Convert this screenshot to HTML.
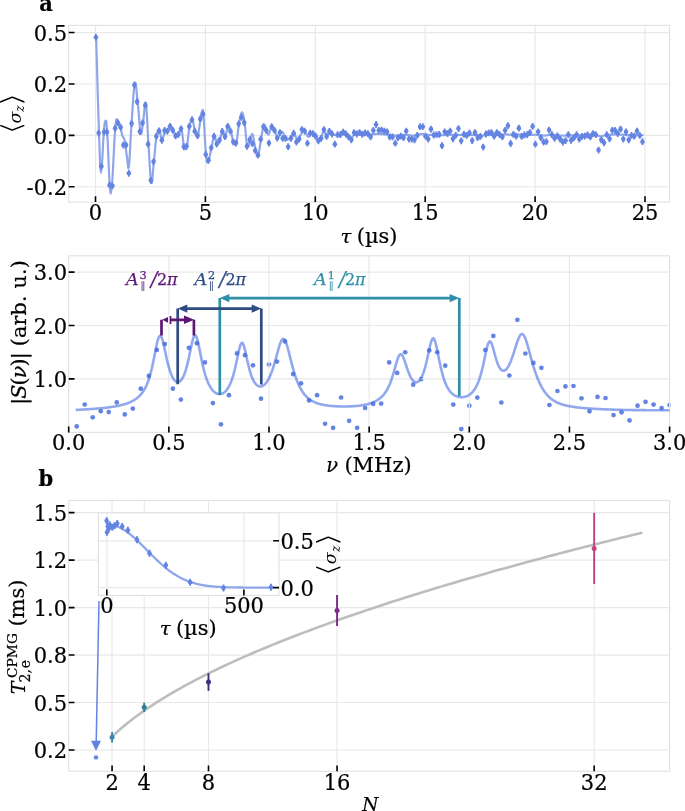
<!DOCTYPE html>
<html><head><meta charset="utf-8"><title>Figure</title>
<style>
html,body{margin:0;padding:0;background:#fff;}
svg{display:block;font-family:"DejaVu Serif", "Liberation Serif", serif;}
.k{stroke:#000;stroke-width:0.22px;}
</style></head><body>
<svg width="685" height="811" viewBox="0 0 685 811">
<rect width="685" height="811" fill="#fff"/>
<g id="panel-a">
<line x1="95.50" y1="25.4" x2="95.50" y2="202.1" stroke="#e8e8e8" stroke-width="1.15"/>
<line x1="205.40" y1="25.4" x2="205.40" y2="202.1" stroke="#e8e8e8" stroke-width="1.15"/>
<line x1="315.30" y1="25.4" x2="315.30" y2="202.1" stroke="#e8e8e8" stroke-width="1.15"/>
<line x1="425.20" y1="25.4" x2="425.20" y2="202.1" stroke="#e8e8e8" stroke-width="1.15"/>
<line x1="535.10" y1="25.4" x2="535.10" y2="202.1" stroke="#e8e8e8" stroke-width="1.15"/>
<line x1="645.00" y1="25.4" x2="645.00" y2="202.1" stroke="#e8e8e8" stroke-width="1.15"/>
<line x1="68.7" y1="32.55" x2="669.6" y2="32.55" stroke="#e8e8e8" stroke-width="1.15"/>
<line x1="68.7" y1="83.95" x2="669.6" y2="83.95" stroke="#e8e8e8" stroke-width="1.15"/>
<line x1="68.7" y1="135.35" x2="669.6" y2="135.35" stroke="#e8e8e8" stroke-width="1.15"/>
<line x1="68.7" y1="186.75" x2="669.6" y2="186.75" stroke="#e8e8e8" stroke-width="1.15"/>
<rect x="68.7" y="25.4" width="600.90" height="176.70" fill="none" stroke="#e3e3e3" stroke-width="1.2"/>
<path transform="translate(0.3,0.3)" d="M95.86,36.93C96.42,56.02 97.68,105.26 98.68,132.38C99.67,159.49 99.89,172.51 100.85,172.51C101.80,172.51 102.58,142.79 103.45,132.38C104.32,121.96 104.49,120.44 105.18,120.44C105.88,120.44 105.84,117.84 106.92,132.38C108.00,146.91 109.00,193.98 110.61,193.11C112.21,192.25 113.56,142.57 114.95,128.04C116.33,113.50 116.46,120.44 117.55,120.44C118.63,120.44 119.46,125.00 120.37,128.04C121.28,131.07 121.32,133.24 122.10,135.63C122.89,138.02 123.41,136.06 124.27,139.97C125.14,143.87 125.57,149.95 126.44,155.15C127.31,160.36 127.66,172.29 128.61,166.00C129.57,159.71 130.04,140.18 131.21,123.70C132.39,107.21 133.25,88.12 134.47,83.57C135.68,79.01 136.12,91.16 137.29,100.92C138.46,110.68 139.24,128.04 140.33,132.38C141.41,136.71 141.67,128.47 142.71,122.61C143.75,116.76 144.45,98.97 145.53,103.09C146.62,107.21 147.05,127.39 148.13,143.22C149.22,159.06 149.87,178.58 150.95,182.27C152.04,185.95 152.52,170.77 153.56,161.66C154.60,152.55 155.08,143.22 156.16,136.71C157.25,130.21 157.85,128.47 158.98,129.12C160.11,129.77 160.63,139.75 161.80,139.97C162.97,140.18 163.71,131.94 164.84,130.21C165.97,128.47 166.37,132.12 167.44,131.29C168.51,130.46 169.10,126.29 170.18,126.04C171.26,125.78 171.75,128.11 172.84,130.03C173.93,131.95 174.56,134.82 175.65,135.65C176.75,136.48 177.22,135.59 178.31,134.17C179.41,132.75 180.03,126.09 181.12,128.55C182.22,131.01 182.69,142.96 183.79,146.45C184.88,149.94 185.50,150.09 186.60,146.01C187.69,141.92 188.17,131.36 189.26,126.04C190.36,120.71 190.98,118.40 192.07,119.38C193.17,120.36 193.64,127.72 194.73,130.92C195.83,134.11 196.45,137.81 197.54,135.36C198.64,132.90 199.38,123.46 200.21,118.64C201.04,113.82 201.09,111.98 201.69,111.24C202.28,110.50 202.37,106.36 203.17,114.94C203.96,123.52 204.73,144.82 205.68,154.14C206.63,163.46 206.80,162.87 207.90,161.54C208.99,160.21 209.94,152.60 211.15,147.49C212.37,142.37 212.84,136.69 213.96,135.95C215.09,135.21 215.68,143.02 216.78,143.79C217.87,144.56 218.34,142.31 219.44,139.79C220.53,137.28 221.15,131.89 222.25,131.21C223.34,130.53 223.82,137.43 224.91,136.39C226.01,135.36 226.60,127.13 227.72,126.04C228.85,124.94 229.44,127.81 230.53,130.92C231.63,134.02 232.10,139.20 233.20,141.57C234.29,143.93 234.91,146.36 236.01,142.75C237.10,139.14 237.57,129.67 238.67,123.52C239.76,117.37 240.36,112.22 241.48,111.98C242.60,111.75 243.20,115.53 244.29,122.34C245.38,129.14 245.86,142.60 246.95,146.01C248.05,149.41 248.70,141.72 249.76,139.35C250.83,136.98 251.18,132.25 252.28,134.17C253.37,136.09 254.11,144.82 255.24,148.96C256.36,153.11 256.80,156.89 257.90,154.88C258.99,152.87 259.56,144.90 260.71,138.91C261.86,132.91 262.57,126.70 263.65,124.93C264.73,123.15 265.26,128.14 266.13,130.04C267.01,131.93 267.27,134.42 268.03,134.42C268.79,134.42 269.14,131.79 269.93,130.04C270.72,128.28 271.04,125.51 271.97,125.66C272.91,125.80 273.49,128.43 274.60,130.77C275.71,133.10 276.47,136.84 277.52,137.34C278.57,137.83 278.98,134.42 279.85,133.25C280.73,132.08 280.96,130.97 281.90,131.50C282.83,132.02 283.50,134.27 284.53,135.88C285.55,137.48 285.78,139.38 287.01,139.53C288.23,139.67 289.34,137.92 290.66,136.61C291.97,135.29 292.26,132.37 293.58,132.96C294.89,133.54 295.91,139.09 297.23,139.53C298.54,139.96 298.98,137.04 300.15,135.15C301.31,133.25 301.99,130.47 303.07,130.04C304.15,129.60 304.53,131.64 305.55,132.96C306.57,134.27 307.07,136.75 308.18,136.61C309.28,136.46 309.78,132.37 311.09,132.23C312.41,132.08 313.28,134.27 314.74,135.88C316.20,137.48 317.08,140.26 318.39,140.26C319.71,140.26 320.23,137.92 321.31,135.88C322.39,133.83 322.77,129.98 323.80,130.04C324.82,130.09 325.34,135.88 326.42,136.17C327.50,136.46 328.03,131.91 329.20,131.50C330.36,131.09 330.63,133.48 332.26,134.12C333.90,134.77 335.18,134.88 337.37,134.71C339.56,134.53 341.17,133.01 343.21,133.25C345.26,133.48 345.99,135.06 347.59,135.88C349.20,136.69 349.78,137.77 351.24,137.34C352.70,136.90 353.14,134.33 354.89,133.69C356.64,133.04 357.96,133.98 360.00,134.12C362.04,134.27 363.51,134.32 365.08,134.40C366.64,134.48 366.72,134.52 367.82,134.52C368.92,134.52 369.47,134.51 370.57,134.39C371.67,134.27 372.22,134.09 373.32,133.94C374.42,133.78 374.96,133.68 376.06,133.61C377.16,133.54 377.71,133.53 378.81,133.59C379.91,133.66 380.46,133.84 381.56,133.92C382.66,134.00 383.20,133.91 384.30,134.00C385.40,134.08 385.95,134.21 387.05,134.34C388.15,134.47 388.70,134.46 389.80,134.63C390.90,134.80 391.44,135.08 392.54,135.20C393.64,135.32 394.19,135.24 395.29,135.24C396.39,135.24 396.94,135.26 398.04,135.20C399.14,135.14 399.69,135.04 400.78,134.92C401.88,134.80 402.43,134.63 403.53,134.59C404.63,134.56 405.18,134.70 406.28,134.74C407.38,134.78 407.93,134.71 409.02,134.81C410.12,134.92 410.67,135.20 411.77,135.25C412.87,135.30 413.42,135.23 414.52,135.07C415.62,134.91 416.17,134.70 417.26,134.45C418.36,134.19 418.91,133.92 420.01,133.79C421.11,133.67 421.66,133.70 422.76,133.83C423.86,133.96 424.41,134.30 425.50,134.45C426.60,134.60 427.15,134.56 428.25,134.57C429.35,134.59 429.90,134.57 431.00,134.51C432.10,134.46 432.65,134.29 433.74,134.29C434.84,134.30 435.39,134.40 436.49,134.56C437.59,134.72 438.14,135.01 439.24,135.09C440.34,135.17 440.89,134.98 441.98,134.94C443.08,134.91 443.63,135.06 444.73,134.90C445.83,134.75 446.38,134.25 447.48,134.17C448.58,134.09 449.13,134.43 450.22,134.52C451.32,134.61 451.87,134.62 452.97,134.62C454.07,134.61 454.62,134.50 455.72,134.49C456.82,134.49 457.37,134.58 458.46,134.59C459.56,134.60 460.11,134.48 461.21,134.54C462.31,134.60 462.86,134.90 463.96,134.89C465.06,134.88 465.61,134.51 466.70,134.49C467.80,134.47 468.35,134.77 469.45,134.80C470.55,134.83 471.10,134.63 472.20,134.65C473.30,134.67 473.85,134.88 474.94,134.89C476.04,134.89 476.59,134.58 477.69,134.68C478.79,134.79 479.34,135.30 480.44,135.41C481.54,135.52 482.09,135.30 483.18,135.23C484.28,135.16 484.83,135.23 485.93,135.05C487.03,134.87 487.58,134.45 488.68,134.32C489.78,134.20 490.33,134.42 491.42,134.43C492.52,134.45 493.07,134.39 494.17,134.41C495.27,134.43 495.82,134.49 496.92,134.52C498.02,134.55 498.57,134.57 499.66,134.56C500.76,134.54 501.31,134.56 502.41,134.45C503.51,134.34 504.06,134.02 505.16,134.00C506.26,133.97 506.81,134.22 507.90,134.32C509.00,134.43 509.55,134.38 510.65,134.53C511.75,134.67 512.30,135.10 513.40,135.05C514.50,135.01 515.05,134.42 516.15,134.29C517.24,134.15 517.79,134.38 518.89,134.39C519.99,134.40 520.54,134.28 521.64,134.33C522.74,134.39 523.29,134.63 524.39,134.66C525.48,134.69 526.03,134.59 527.13,134.46C528.23,134.34 528.78,134.02 529.88,134.03C530.98,134.04 531.53,134.42 532.63,134.51C533.72,134.59 534.27,134.36 535.37,134.47C536.47,134.57 537.02,134.94 538.12,135.03C539.22,135.12 539.77,134.84 540.87,134.92C541.96,135.00 542.51,135.40 543.61,135.42C544.71,135.44 545.26,135.19 546.36,135.04C547.46,134.89 548.01,134.78 549.11,134.67C550.20,134.57 550.75,134.48 551.85,134.51C552.95,134.53 553.50,134.70 554.60,134.80C555.70,134.90 556.25,134.94 557.35,135.02C558.44,135.10 558.99,135.12 560.09,135.20C561.19,135.28 561.74,135.43 562.84,135.43C563.94,135.44 564.49,135.28 565.59,135.21C566.68,135.15 567.23,135.17 568.33,135.13C569.43,135.08 569.98,135.02 571.08,135.00C572.18,134.97 572.73,135.01 573.83,135.00C574.92,134.98 575.47,134.96 576.57,134.94C577.67,134.91 578.22,134.86 579.32,134.86C580.42,134.86 580.97,134.96 582.07,134.94C583.16,134.91 583.71,134.77 584.81,134.73C585.91,134.70 586.46,134.78 587.56,134.75C588.66,134.73 589.21,134.65 590.31,134.62C591.40,134.59 591.95,134.48 593.05,134.61C594.15,134.74 594.70,135.07 595.80,135.27C596.90,135.46 597.45,135.44 598.55,135.58C599.64,135.72 600.19,136.05 601.29,135.98C602.39,135.91 602.94,135.38 604.04,135.21C605.14,135.05 605.69,135.30 606.79,135.16C607.88,135.03 608.43,134.71 609.53,134.54C610.63,134.37 611.18,134.42 612.28,134.32C613.38,134.23 613.93,134.13 615.03,134.06C616.12,134.00 616.67,133.93 617.77,134.00C618.87,134.08 619.42,134.37 620.52,134.44C621.62,134.51 622.17,134.26 623.27,134.35C624.37,134.44 624.91,134.82 626.01,134.89C627.11,134.96 627.66,134.70 628.76,134.70C629.86,134.71 630.41,134.97 631.51,134.92C632.61,134.88 633.15,134.57 634.25,134.48C635.35,134.40 635.90,134.43 637.00,134.48C638.10,134.54 638.65,134.67 639.75,134.76C640.85,134.86 641.94,134.92 642.49,134.96" fill="none" stroke="#8fa6ea" stroke-width="2.2" stroke-linejoin="round" stroke-linecap="round"/>
<path d="M95.90,33.83v6.8M98.65,129.71v6.8M101.39,162.90v6.8M104.14,128.62v6.8M106.89,128.62v6.8M109.63,181.77v6.8M112.38,182.42v6.8M115.13,124.94v6.8M117.87,119.51v6.8M120.62,123.85v6.8M123.37,141.64v6.8M126.11,141.64v6.8M128.86,169.84v6.8M131.61,120.16v6.8M134.35,81.55v6.8M137.10,98.26v6.8M139.85,128.19v6.8M142.59,119.51v6.8M145.34,101.73v6.8M148.09,140.77v6.8M150.83,177.00v6.8M153.58,158.13v6.8M156.33,132.96v6.8M159.07,127.54v6.8M161.82,136.87v6.8M164.57,127.11v6.8M167.31,127.82v6.8M170.06,122.94v6.8M172.81,126.93v6.8M175.55,132.55v6.8M178.30,131.07v6.8M181.05,125.45v6.8M183.79,143.35v6.8M186.54,142.91v6.8M189.29,122.94v6.8M192.03,116.28v6.8M194.78,127.82v6.8M197.53,132.26v6.8M200.27,115.54v6.8M203.02,110.66v6.8M205.77,151.04v6.8M208.51,156.96v6.8M211.26,144.39v6.8M214.01,132.85v6.8M216.75,140.69v6.8M219.50,136.69v6.8M222.25,128.11v6.8M224.99,133.29v6.8M227.74,122.94v6.8M230.49,127.82v6.8M233.24,138.47v6.8M235.98,139.65v6.8M238.73,120.42v6.8M241.48,114.06v6.8M244.22,119.24v6.8M246.97,142.91v6.8M249.72,136.25v6.8M252.46,140.24v6.8M255.21,147.05v6.8M257.96,151.78v6.8M260.70,135.81v6.8M263.45,123.29v6.8M266.20,126.94v6.8M268.94,139.64v6.8M271.69,123.29v6.8M274.44,126.94v6.8M277.18,134.67v6.8M279.93,129.13v6.8M282.68,134.97v6.8M285.42,134.97v6.8M288.17,143.29v6.8M290.92,134.97v6.8M293.66,129.86v6.8M296.41,138.62v6.8M299.16,135.70v6.8M301.90,126.21v6.8M304.65,127.67v6.8M307.40,139.78v6.8M310.14,129.86v6.8M312.89,130.15v6.8M315.64,132.78v6.8M318.38,137.45v6.8M321.13,134.97v6.8M323.88,126.21v6.8M326.62,133.07v6.8M329.37,127.96v6.8M332.12,130.59v6.8M334.86,140.81v6.8M337.61,131.32v6.8M340.36,131.32v6.8M343.10,128.69v6.8M345.85,130.59v6.8M348.60,133.51v6.8M351.34,136.43v6.8M354.09,129.13v6.8M356.84,130.59v6.8M359.58,129.13v6.8M362.33,131.02v6.8M365.08,129.56v6.8M367.82,130.15v6.8M370.57,133.51v6.8M373.32,126.94v6.8M376.06,121.10v6.8M378.81,126.94v6.8M381.56,126.64v6.8M384.30,127.67v6.8M387.05,128.40v6.8M389.80,133.51v6.8M392.54,133.51v6.8M395.29,139.78v6.8M398.04,134.24v6.8M400.78,132.78v6.8M403.53,134.24v6.8M406.28,127.67v6.8M409.02,135.70v6.8M411.77,135.70v6.8M414.52,136.43v6.8M417.26,132.05v6.8M420.01,123.29v6.8M422.76,123.29v6.8M425.50,132.78v6.8M428.25,135.70v6.8M431.00,125.77v6.8M433.74,131.61v6.8M436.49,131.32v6.8M439.24,131.02v6.8M441.98,142.26v6.8M444.73,128.40v6.8M447.48,130.15v6.8M450.22,127.67v6.8M452.97,135.40v6.8M455.72,132.05v6.8M458.46,125.18v6.8M461.21,137.45v6.8M463.96,131.02v6.8M466.70,132.05v6.8M469.45,129.56v6.8M472.20,137.16v6.8M474.94,129.13v6.8M477.69,134.24v6.8M480.44,133.07v6.8M483.18,143.72v6.8M485.93,130.59v6.8M488.68,129.56v6.8M491.42,129.13v6.8M494.17,132.78v6.8M496.92,129.13v6.8M499.66,131.32v6.8M502.41,133.51v6.8M505.16,126.94v6.8M507.90,122.26v6.8M510.65,140.08v6.8M513.40,131.02v6.8M516.15,132.78v6.8M518.89,124.75v6.8M521.64,133.07v6.8M524.39,131.61v6.8M527.13,131.32v6.8M529.88,129.13v6.8M532.63,122.99v6.8M535.37,140.81v6.8M538.12,128.40v6.8M540.87,134.24v6.8M543.61,138.62v6.8M546.36,138.32v6.8M549.11,126.64v6.8M551.85,131.32v6.8M554.60,134.97v6.8M557.35,132.48v6.8M560.09,135.70v6.8M562.84,138.62v6.8M565.59,137.16v6.8M568.33,131.32v6.8M571.08,136.86v6.8M573.83,134.53v6.8M576.57,131.32v6.8M579.32,135.70v6.8M582.07,133.07v6.8M584.81,132.78v6.8M587.56,131.61v6.8M590.31,133.51v6.8M593.05,130.15v6.8M595.80,131.32v6.8M598.55,146.64v6.8M601.29,136.43v6.8M604.04,139.35v6.8M606.79,131.32v6.8M609.53,135.40v6.8M612.28,126.94v6.8M615.03,126.94v6.8M617.77,130.15v6.8M620.52,125.77v6.8M623.27,135.70v6.8M626.01,128.40v6.8M628.76,136.43v6.8M631.51,132.05v6.8M634.25,132.78v6.8M637.00,127.67v6.8M639.75,132.05v6.8M642.49,138.32v6.8" stroke="#6484e2" stroke-width="1.8" fill="none"/>
<g fill="#6484e2"><circle cx="95.90" cy="37.23" r="2.3"/><circle cx="98.65" cy="133.11" r="2.3"/><circle cx="101.39" cy="166.30" r="2.3"/><circle cx="104.14" cy="132.02" r="2.3"/><circle cx="106.89" cy="132.02" r="2.3"/><circle cx="109.63" cy="185.17" r="2.3"/><circle cx="112.38" cy="185.82" r="2.3"/><circle cx="115.13" cy="128.34" r="2.3"/><circle cx="117.87" cy="122.91" r="2.3"/><circle cx="120.62" cy="127.25" r="2.3"/><circle cx="123.37" cy="145.04" r="2.3"/><circle cx="126.11" cy="145.04" r="2.3"/><circle cx="128.86" cy="173.24" r="2.3"/><circle cx="131.61" cy="123.56" r="2.3"/><circle cx="134.35" cy="84.95" r="2.3"/><circle cx="137.10" cy="101.66" r="2.3"/><circle cx="139.85" cy="131.59" r="2.3"/><circle cx="142.59" cy="122.91" r="2.3"/><circle cx="145.34" cy="105.13" r="2.3"/><circle cx="148.09" cy="144.17" r="2.3"/><circle cx="150.83" cy="180.40" r="2.3"/><circle cx="153.58" cy="161.53" r="2.3"/><circle cx="156.33" cy="136.36" r="2.3"/><circle cx="159.07" cy="130.94" r="2.3"/><circle cx="161.82" cy="140.27" r="2.3"/><circle cx="164.57" cy="130.51" r="2.3"/><circle cx="167.31" cy="131.22" r="2.3"/><circle cx="170.06" cy="126.34" r="2.3"/><circle cx="172.81" cy="130.33" r="2.3"/><circle cx="175.55" cy="135.95" r="2.3"/><circle cx="178.30" cy="134.47" r="2.3"/><circle cx="181.05" cy="128.85" r="2.3"/><circle cx="183.79" cy="146.75" r="2.3"/><circle cx="186.54" cy="146.31" r="2.3"/><circle cx="189.29" cy="126.34" r="2.3"/><circle cx="192.03" cy="119.68" r="2.3"/><circle cx="194.78" cy="131.22" r="2.3"/><circle cx="197.53" cy="135.66" r="2.3"/><circle cx="200.27" cy="118.94" r="2.3"/><circle cx="203.02" cy="114.06" r="2.3"/><circle cx="205.77" cy="154.44" r="2.3"/><circle cx="208.51" cy="160.36" r="2.3"/><circle cx="211.26" cy="147.79" r="2.3"/><circle cx="214.01" cy="136.25" r="2.3"/><circle cx="216.75" cy="144.09" r="2.3"/><circle cx="219.50" cy="140.09" r="2.3"/><circle cx="222.25" cy="131.51" r="2.3"/><circle cx="224.99" cy="136.69" r="2.3"/><circle cx="227.74" cy="126.34" r="2.3"/><circle cx="230.49" cy="131.22" r="2.3"/><circle cx="233.24" cy="141.87" r="2.3"/><circle cx="235.98" cy="143.05" r="2.3"/><circle cx="238.73" cy="123.82" r="2.3"/><circle cx="241.48" cy="117.46" r="2.3"/><circle cx="244.22" cy="122.64" r="2.3"/><circle cx="246.97" cy="146.31" r="2.3"/><circle cx="249.72" cy="139.65" r="2.3"/><circle cx="252.46" cy="143.64" r="2.3"/><circle cx="255.21" cy="150.45" r="2.3"/><circle cx="257.96" cy="155.18" r="2.3"/><circle cx="260.70" cy="139.21" r="2.3"/><circle cx="263.45" cy="126.69" r="2.3"/><circle cx="266.20" cy="130.34" r="2.3"/><circle cx="268.94" cy="143.04" r="2.3"/><circle cx="271.69" cy="126.69" r="2.3"/><circle cx="274.44" cy="130.34" r="2.3"/><circle cx="277.18" cy="138.07" r="2.3"/><circle cx="279.93" cy="132.53" r="2.3"/><circle cx="282.68" cy="138.37" r="2.3"/><circle cx="285.42" cy="138.37" r="2.3"/><circle cx="288.17" cy="146.69" r="2.3"/><circle cx="290.92" cy="138.37" r="2.3"/><circle cx="293.66" cy="133.26" r="2.3"/><circle cx="296.41" cy="142.02" r="2.3"/><circle cx="299.16" cy="139.10" r="2.3"/><circle cx="301.90" cy="129.61" r="2.3"/><circle cx="304.65" cy="131.07" r="2.3"/><circle cx="307.40" cy="143.18" r="2.3"/><circle cx="310.14" cy="133.26" r="2.3"/><circle cx="312.89" cy="133.55" r="2.3"/><circle cx="315.64" cy="136.18" r="2.3"/><circle cx="318.38" cy="140.85" r="2.3"/><circle cx="321.13" cy="138.37" r="2.3"/><circle cx="323.88" cy="129.61" r="2.3"/><circle cx="326.62" cy="136.47" r="2.3"/><circle cx="329.37" cy="131.36" r="2.3"/><circle cx="332.12" cy="133.99" r="2.3"/><circle cx="334.86" cy="144.21" r="2.3"/><circle cx="337.61" cy="134.72" r="2.3"/><circle cx="340.36" cy="134.72" r="2.3"/><circle cx="343.10" cy="132.09" r="2.3"/><circle cx="345.85" cy="133.99" r="2.3"/><circle cx="348.60" cy="136.91" r="2.3"/><circle cx="351.34" cy="139.83" r="2.3"/><circle cx="354.09" cy="132.53" r="2.3"/><circle cx="356.84" cy="133.99" r="2.3"/><circle cx="359.58" cy="132.53" r="2.3"/><circle cx="362.33" cy="134.42" r="2.3"/><circle cx="365.08" cy="132.96" r="2.3"/><circle cx="367.82" cy="133.55" r="2.3"/><circle cx="370.57" cy="136.91" r="2.3"/><circle cx="373.32" cy="130.34" r="2.3"/><circle cx="376.06" cy="124.50" r="2.3"/><circle cx="378.81" cy="130.34" r="2.3"/><circle cx="381.56" cy="130.04" r="2.3"/><circle cx="384.30" cy="131.07" r="2.3"/><circle cx="387.05" cy="131.80" r="2.3"/><circle cx="389.80" cy="136.91" r="2.3"/><circle cx="392.54" cy="136.91" r="2.3"/><circle cx="395.29" cy="143.18" r="2.3"/><circle cx="398.04" cy="137.64" r="2.3"/><circle cx="400.78" cy="136.18" r="2.3"/><circle cx="403.53" cy="137.64" r="2.3"/><circle cx="406.28" cy="131.07" r="2.3"/><circle cx="409.02" cy="139.10" r="2.3"/><circle cx="411.77" cy="139.10" r="2.3"/><circle cx="414.52" cy="139.83" r="2.3"/><circle cx="417.26" cy="135.45" r="2.3"/><circle cx="420.01" cy="126.69" r="2.3"/><circle cx="422.76" cy="126.69" r="2.3"/><circle cx="425.50" cy="136.18" r="2.3"/><circle cx="428.25" cy="139.10" r="2.3"/><circle cx="431.00" cy="129.17" r="2.3"/><circle cx="433.74" cy="135.01" r="2.3"/><circle cx="436.49" cy="134.72" r="2.3"/><circle cx="439.24" cy="134.42" r="2.3"/><circle cx="441.98" cy="145.66" r="2.3"/><circle cx="444.73" cy="131.80" r="2.3"/><circle cx="447.48" cy="133.55" r="2.3"/><circle cx="450.22" cy="131.07" r="2.3"/><circle cx="452.97" cy="138.80" r="2.3"/><circle cx="455.72" cy="135.45" r="2.3"/><circle cx="458.46" cy="128.58" r="2.3"/><circle cx="461.21" cy="140.85" r="2.3"/><circle cx="463.96" cy="134.42" r="2.3"/><circle cx="466.70" cy="135.45" r="2.3"/><circle cx="469.45" cy="132.96" r="2.3"/><circle cx="472.20" cy="140.56" r="2.3"/><circle cx="474.94" cy="132.53" r="2.3"/><circle cx="477.69" cy="137.64" r="2.3"/><circle cx="480.44" cy="136.47" r="2.3"/><circle cx="483.18" cy="147.12" r="2.3"/><circle cx="485.93" cy="133.99" r="2.3"/><circle cx="488.68" cy="132.96" r="2.3"/><circle cx="491.42" cy="132.53" r="2.3"/><circle cx="494.17" cy="136.18" r="2.3"/><circle cx="496.92" cy="132.53" r="2.3"/><circle cx="499.66" cy="134.72" r="2.3"/><circle cx="502.41" cy="136.91" r="2.3"/><circle cx="505.16" cy="130.34" r="2.3"/><circle cx="507.90" cy="125.66" r="2.3"/><circle cx="510.65" cy="143.48" r="2.3"/><circle cx="513.40" cy="134.42" r="2.3"/><circle cx="516.15" cy="136.18" r="2.3"/><circle cx="518.89" cy="128.15" r="2.3"/><circle cx="521.64" cy="136.47" r="2.3"/><circle cx="524.39" cy="135.01" r="2.3"/><circle cx="527.13" cy="134.72" r="2.3"/><circle cx="529.88" cy="132.53" r="2.3"/><circle cx="532.63" cy="126.39" r="2.3"/><circle cx="535.37" cy="144.21" r="2.3"/><circle cx="538.12" cy="131.80" r="2.3"/><circle cx="540.87" cy="137.64" r="2.3"/><circle cx="543.61" cy="142.02" r="2.3"/><circle cx="546.36" cy="141.72" r="2.3"/><circle cx="549.11" cy="130.04" r="2.3"/><circle cx="551.85" cy="134.72" r="2.3"/><circle cx="554.60" cy="138.37" r="2.3"/><circle cx="557.35" cy="135.88" r="2.3"/><circle cx="560.09" cy="139.10" r="2.3"/><circle cx="562.84" cy="142.02" r="2.3"/><circle cx="565.59" cy="140.56" r="2.3"/><circle cx="568.33" cy="134.72" r="2.3"/><circle cx="571.08" cy="140.26" r="2.3"/><circle cx="573.83" cy="137.93" r="2.3"/><circle cx="576.57" cy="134.72" r="2.3"/><circle cx="579.32" cy="139.10" r="2.3"/><circle cx="582.07" cy="136.47" r="2.3"/><circle cx="584.81" cy="136.18" r="2.3"/><circle cx="587.56" cy="135.01" r="2.3"/><circle cx="590.31" cy="136.91" r="2.3"/><circle cx="593.05" cy="133.55" r="2.3"/><circle cx="595.80" cy="134.72" r="2.3"/><circle cx="598.55" cy="150.04" r="2.3"/><circle cx="601.29" cy="139.83" r="2.3"/><circle cx="604.04" cy="142.75" r="2.3"/><circle cx="606.79" cy="134.72" r="2.3"/><circle cx="609.53" cy="138.80" r="2.3"/><circle cx="612.28" cy="130.34" r="2.3"/><circle cx="615.03" cy="130.34" r="2.3"/><circle cx="617.77" cy="133.55" r="2.3"/><circle cx="620.52" cy="129.17" r="2.3"/><circle cx="623.27" cy="139.10" r="2.3"/><circle cx="626.01" cy="131.80" r="2.3"/><circle cx="628.76" cy="139.83" r="2.3"/><circle cx="631.51" cy="135.45" r="2.3"/><circle cx="634.25" cy="136.18" r="2.3"/><circle cx="637.00" cy="131.07" r="2.3"/><circle cx="639.75" cy="135.45" r="2.3"/><circle cx="642.49" cy="141.72" r="2.3"/></g>
<path d="M95.50,202.1v-5.8M205.40,202.1v-5.8M315.30,202.1v-5.8M425.20,202.1v-5.8M535.10,202.1v-5.8M645.00,202.1v-5.8M68.7,32.55h5.8M68.7,83.95h5.8M68.7,135.35h5.8M68.7,186.75h5.8" stroke="#000" stroke-width="1.6" fill="none"/>
<text transform="translate(95.50,220.20) scale(1,1.05)" class="k" font-size="21" text-anchor="middle" fill="#000" >0</text>
<text transform="translate(205.40,220.20) scale(1,1.05)" class="k" font-size="21" text-anchor="middle" fill="#000" >5</text>
<text transform="translate(315.30,220.20) scale(1,1.05)" class="k" font-size="21" text-anchor="middle" fill="#000" >10</text>
<text transform="translate(425.20,220.20) scale(1,1.05)" class="k" font-size="21" text-anchor="middle" fill="#000" >15</text>
<text transform="translate(535.10,220.20) scale(1,1.05)" class="k" font-size="21" text-anchor="middle" fill="#000" >20</text>
<text transform="translate(645.00,220.20) scale(1,1.05)" class="k" font-size="21" text-anchor="middle" fill="#000" >25</text>
<text transform="translate(67.10,40.75) scale(1,1.05)" class="k" font-size="21" text-anchor="end" fill="#000" >0.5</text>
<text transform="translate(67.10,92.15) scale(1,1.05)" class="k" font-size="21" text-anchor="end" fill="#000" >0.2</text>
<text transform="translate(67.10,143.55) scale(1,1.05)" class="k" font-size="21" text-anchor="end" fill="#000" >0.0</text>
<text transform="translate(67.10,194.95) scale(1,1.05)" class="k" font-size="21" text-anchor="end" fill="#000" >-0.2</text>
<text class="k" transform="translate(340.4,242.8) scale(1.1,1)" font-size="18" font-style="italic">τ</text><text class="k" x="356.7" y="242.8" font-size="21">(µs)</text>
<g transform="translate(21.4,113.6) rotate(-90)"><text transform="translate(-21.30,-0.3) scale(1.3,1)" font-size="28.5" stroke="#fff" stroke-width="1.05">⟨</text><text x="-9.8" y="-0.4" font-size="17.5" font-style="italic">σ</text><text x="1.80" y="2.8" font-size="12" font-style="italic">z</text><text transform="translate(6.74,-0.3) scale(1.3,1)" font-size="28.5" stroke="#fff" stroke-width="1.05">⟩</text></g>
<text transform="translate(39.20,10.90) scale(1,1.05)" class="k" font-size="21" text-anchor="start" fill="#000" font-weight="bold">a</text>
</g>
<g id="panel-spec">
<clipPath id="cs"><rect x="68.7" y="255.8" width="601.70" height="176.60"/></clipPath>
<g fill="#6484e2" clip-path="url(#cs)"><circle cx="76.71" cy="426.39" r="2.35"/><circle cx="84.72" cy="404.49" r="2.35"/><circle cx="92.74" cy="417.34" r="2.35"/><circle cx="100.75" cy="411.20" r="2.35"/><circle cx="108.76" cy="412.08" r="2.35"/><circle cx="116.77" cy="402.45" r="2.35"/><circle cx="124.78" cy="414.42" r="2.35"/><circle cx="132.80" cy="408.58" r="2.35"/><circle cx="140.81" cy="388.72" r="2.35"/><circle cx="148.82" cy="375.88" r="2.35"/><circle cx="156.83" cy="349.89" r="2.35"/><circle cx="164.84" cy="344.05" r="2.35"/><circle cx="172.86" cy="388.72" r="2.35"/><circle cx="180.87" cy="399.53" r="2.35"/><circle cx="188.88" cy="347.85" r="2.35"/><circle cx="196.89" cy="343.18" r="2.35"/><circle cx="204.90" cy="362.45" r="2.35"/><circle cx="212.92" cy="403.03" r="2.35"/><circle cx="220.93" cy="424.34" r="2.35"/><circle cx="228.94" cy="395.15" r="2.35"/><circle cx="236.95" cy="353.39" r="2.35"/><circle cx="244.96" cy="355.15" r="2.35"/><circle cx="252.98" cy="365.36" r="2.35"/><circle cx="260.99" cy="398.65" r="2.35"/><circle cx="269.00" cy="364.49" r="2.35"/><circle cx="277.01" cy="361.57" r="2.35"/><circle cx="285.02" cy="341.42" r="2.35"/><circle cx="293.04" cy="374.12" r="2.35"/><circle cx="301.05" cy="383.47" r="2.35"/><circle cx="309.06" cy="400.40" r="2.35"/><circle cx="317.07" cy="395.15" r="2.35"/><circle cx="325.08" cy="423.76" r="2.35"/><circle cx="333.10" cy="427.85" r="2.35"/><circle cx="341.11" cy="397.48" r="2.35"/><circle cx="349.12" cy="420.84" r="2.35"/><circle cx="357.13" cy="427.85" r="2.35"/><circle cx="365.14" cy="407.99" r="2.35"/><circle cx="373.16" cy="403.91" r="2.35"/><circle cx="381.17" cy="403.61" r="2.35"/><circle cx="389.18" cy="362.45" r="2.35"/><circle cx="397.19" cy="372.96" r="2.35"/><circle cx="405.20" cy="352.23" r="2.35"/><circle cx="413.22" cy="384.64" r="2.35"/><circle cx="421.23" cy="379.09" r="2.35"/><circle cx="429.24" cy="350.47" r="2.35"/><circle cx="437.25" cy="352.23" r="2.35"/><circle cx="445.26" cy="365.70" r="2.35"/><circle cx="453.28" cy="404.60" r="2.35"/><circle cx="461.29" cy="429.10" r="2.35"/><circle cx="469.30" cy="405.70" r="2.35"/><circle cx="477.31" cy="397.60" r="2.35"/><circle cx="485.32" cy="350.00" r="2.35"/><circle cx="493.34" cy="335.90" r="2.35"/><circle cx="501.35" cy="402.50" r="2.35"/><circle cx="509.36" cy="375.50" r="2.35"/><circle cx="517.37" cy="319.80" r="2.35"/><circle cx="525.38" cy="353.50" r="2.35"/><circle cx="533.40" cy="362.90" r="2.35"/><circle cx="541.41" cy="367.80" r="2.35"/><circle cx="549.42" cy="405.00" r="2.35"/><circle cx="557.43" cy="391.00" r="2.35"/><circle cx="565.44" cy="386.40" r="2.35"/><circle cx="573.46" cy="386.00" r="2.35"/><circle cx="581.47" cy="398.30" r="2.35"/><circle cx="589.48" cy="411.30" r="2.35"/><circle cx="597.49" cy="396.90" r="2.35"/><circle cx="605.50" cy="398.00" r="2.35"/><circle cx="613.52" cy="415.10" r="2.35"/><circle cx="621.53" cy="412.30" r="2.35"/><circle cx="629.54" cy="420.40" r="2.35"/><circle cx="637.55" cy="405.70" r="2.35"/><circle cx="645.56" cy="401.80" r="2.35"/><circle cx="653.58" cy="404.60" r="2.35"/><circle cx="661.59" cy="408.10" r="2.35"/><circle cx="669.60" cy="405.00" r="2.35"/></g>
<line x1="168.85" y1="255.8" x2="168.85" y2="432.4" stroke="#e8e8e8" stroke-width="1.15"/>
<line x1="269.00" y1="255.8" x2="269.00" y2="432.4" stroke="#e8e8e8" stroke-width="1.15"/>
<line x1="369.15" y1="255.8" x2="369.15" y2="432.4" stroke="#e8e8e8" stroke-width="1.15"/>
<line x1="469.30" y1="255.8" x2="469.30" y2="432.4" stroke="#e8e8e8" stroke-width="1.15"/>
<line x1="569.45" y1="255.8" x2="569.45" y2="432.4" stroke="#e8e8e8" stroke-width="1.15"/>
<line x1="68.7" y1="378.90" x2="669.6" y2="378.90" stroke="#e8e8e8" stroke-width="1.15"/>
<line x1="68.7" y1="325.50" x2="669.6" y2="325.50" stroke="#e8e8e8" stroke-width="1.15"/>
<line x1="68.7" y1="272.10" x2="669.6" y2="272.10" stroke="#e8e8e8" stroke-width="1.15"/>
<rect x="68.7" y="255.8" width="600.90" height="176.60" fill="none" stroke="#e3e3e3" stroke-width="1.2"/>
<path d="M75.71,409.89L76.21,409.87L76.70,409.85L77.20,409.83L77.69,409.81L78.19,409.79L78.68,409.77L79.18,409.74L79.67,409.72L80.17,409.69L80.66,409.67L81.16,409.64L81.65,409.62L82.15,409.59L82.64,409.56L83.14,409.53L83.64,409.51L84.13,409.48L84.63,409.45L85.12,409.42L85.62,409.39L86.11,409.36L86.61,409.33L87.10,409.30L87.60,409.26L88.09,409.23L88.59,409.20L89.08,409.17L89.58,409.13L90.07,409.10L90.57,409.07L91.07,409.03L91.56,409.00L92.06,408.96L92.55,408.93L93.05,408.89L93.54,408.86L94.04,408.82L94.53,408.78L95.03,408.74L95.52,408.71L96.02,408.67L96.51,408.63L97.01,408.59L97.50,408.55L98.00,408.50L98.50,408.46L98.99,408.42L99.49,408.37L99.98,408.33L100.48,408.28L100.97,408.24L101.47,408.19L101.96,408.14L102.46,408.09L102.95,408.04L103.45,407.99L103.94,407.93L104.44,407.88L104.93,407.82L105.43,407.77L105.93,407.71L106.42,407.65L106.92,407.59L107.41,407.53L107.91,407.46L108.40,407.40L108.90,407.33L109.39,407.27L109.89,407.20L110.38,407.13L110.88,407.05L111.37,406.98L111.87,406.91L112.36,406.83L112.86,406.75L113.35,406.67L113.85,406.59L114.35,406.51L114.84,406.42L115.34,406.33L115.83,406.25L116.33,406.15L116.82,406.06L117.32,405.96L117.81,405.87L118.31,405.76L118.80,405.66L119.30,405.56L119.79,405.45L120.29,405.33L120.78,405.22L121.28,405.10L121.78,404.98L122.27,404.85L122.77,404.73L123.26,404.59L123.76,404.45L124.25,404.31L124.75,404.17L125.24,404.02L125.74,403.86L126.23,403.70L126.73,403.53L127.22,403.36L127.72,403.18L128.21,402.99L128.71,402.80L129.21,402.60L129.70,402.39L130.20,402.17L130.69,401.94L131.19,401.71L131.68,401.46L132.18,401.21L132.67,400.94L133.17,400.67L133.66,400.38L134.16,400.08L134.65,399.76L135.15,399.43L135.64,399.09L136.14,398.73L136.63,398.36L137.13,397.97L137.63,397.56L138.12,397.14L138.62,396.69L139.11,396.22L139.61,395.73L140.10,395.22L140.60,394.68L141.09,394.11L141.59,393.51L142.08,392.88L142.58,392.22L143.07,391.52L143.57,390.77L144.06,389.99L144.56,389.15L145.06,388.26L145.55,387.32L146.05,386.32L146.54,385.25L147.04,384.10L147.53,382.89L148.03,381.58L148.52,380.20L149.02,378.72L149.51,377.14L150.01,375.46L150.50,373.67L151.00,371.77L151.49,369.77L151.99,367.65L152.49,365.44L152.98,363.12L153.48,360.72L153.97,358.24L154.47,355.72L154.96,353.18L155.46,350.64L155.95,348.16L156.45,345.77L156.94,343.52L157.44,341.47L157.93,339.67L158.43,338.17L158.92,337.01L159.42,336.22L159.92,335.84L160.41,335.86L160.91,336.29L161.40,337.10L161.90,338.27L162.39,339.75L162.89,341.49L163.38,343.45L163.88,345.57L164.37,347.80L164.87,350.10L165.36,352.42L165.86,354.74L166.35,357.01L166.85,359.22L167.34,361.35L167.84,363.39L168.34,365.33L168.83,367.15L169.33,368.87L169.82,370.47L170.32,371.96L170.81,373.33L171.31,374.60L171.80,375.75L172.30,376.81L172.79,377.75L173.29,378.60L173.78,379.36L174.28,380.01L174.77,380.58L175.27,381.05L175.77,381.43L176.26,381.73L176.76,381.94L177.25,382.06L177.75,382.10L178.24,382.06L178.74,381.93L179.23,381.71L179.73,381.41L180.22,381.02L180.72,380.54L181.21,379.97L181.71,379.31L182.20,378.55L182.70,377.70L183.20,376.74L183.69,375.68L184.19,374.51L184.68,373.23L185.18,371.83L185.67,370.32L186.17,368.68L186.66,366.92L187.16,365.05L187.65,363.05L188.15,360.94L188.64,358.73L189.14,356.43L189.63,354.06L190.13,351.65L190.62,349.23L191.12,346.85L191.62,344.54L192.11,342.36L192.61,340.38L193.10,338.65L193.60,337.23L194.09,336.17L194.59,335.52L195.08,335.29L195.58,335.50L196.07,336.15L196.57,337.21L197.06,338.64L197.56,340.40L198.05,342.43L198.55,344.66L199.05,347.05L199.54,349.53L200.04,352.06L200.53,354.60L201.03,357.10L201.52,359.55L202.02,361.92L202.51,364.19L203.01,366.37L203.50,368.43L204.00,370.39L204.49,372.24L204.99,373.97L205.48,375.61L205.98,377.14L206.48,378.58L206.97,379.93L207.47,381.19L207.96,382.37L208.46,383.47L208.95,384.50L209.45,385.46L209.94,386.36L210.44,387.19L210.93,387.97L211.43,388.70L211.92,389.36L212.42,389.98L212.91,390.55L213.41,391.07L213.90,391.55L214.40,391.98L214.90,392.37L215.39,392.72L215.89,393.03L216.38,393.29L216.88,393.52L217.37,393.71L217.87,393.86L218.36,393.97L218.86,394.05L219.35,394.08L219.85,394.08L220.34,394.04L220.84,393.96L221.33,393.85L221.83,393.69L222.33,393.49L222.82,393.26L223.32,392.98L223.81,392.66L224.31,392.29L224.80,391.88L225.30,391.42L225.79,390.91L226.29,390.35L226.78,389.74L227.28,389.07L227.77,388.34L228.27,387.55L228.76,386.70L229.26,385.78L229.76,384.78L230.25,383.71L230.75,382.55L231.24,381.31L231.74,379.98L232.23,378.55L232.73,377.01L233.22,375.37L233.72,373.63L234.21,371.76L234.71,369.79L235.20,367.71L235.70,365.53L236.19,363.27L236.69,360.93L237.19,358.55L237.68,356.16L238.18,353.80L238.67,351.53L239.17,349.40L239.66,347.47L240.16,345.80L240.65,344.47L241.15,343.51L241.64,342.97L242.14,342.88L242.63,343.23L243.13,344.00L243.62,345.17L244.12,346.67L244.61,348.46L245.11,350.47L245.61,352.63L246.10,354.88L246.60,357.18L247.09,359.47L247.59,361.72L248.08,363.90L248.58,366.00L249.07,367.98L249.57,369.85L250.06,371.61L250.56,373.24L251.05,374.76L251.55,376.16L252.04,377.44L252.54,378.62L253.04,379.70L253.53,380.68L254.03,381.56L254.52,382.36L255.02,383.08L255.51,383.72L256.01,384.28L256.50,384.77L257.00,385.20L257.49,385.56L257.99,385.85L258.48,386.09L258.98,386.27L259.47,386.39L259.97,386.46L260.47,386.47L260.96,386.43L261.46,386.34L261.95,386.19L262.45,385.99L262.94,385.73L263.44,385.43L263.93,385.07L264.43,384.65L264.92,384.19L265.42,383.66L265.91,383.09L266.41,382.45L266.90,381.76L267.40,381.01L267.89,380.20L268.39,379.33L268.89,378.40L269.38,377.41L269.88,376.35L270.37,375.23L270.87,374.04L271.36,372.78L271.86,371.46L272.35,370.07L272.85,368.61L273.34,367.09L273.84,365.50L274.33,363.86L274.83,362.16L275.32,360.41L275.82,358.62L276.32,356.81L276.81,354.97L277.31,353.14L277.80,351.32L278.30,349.53L278.79,347.80L279.29,346.15L279.78,344.61L280.28,343.20L280.77,341.95L281.27,340.88L281.76,340.02L282.26,339.38L282.75,338.99L283.25,338.84L283.75,338.96L284.24,339.33L284.74,339.94L285.23,340.80L285.73,341.87L286.22,343.15L286.72,344.60L287.21,346.19L287.71,347.92L288.20,349.74L288.70,351.64L289.19,353.59L289.69,355.57L290.18,357.56L290.68,359.54L291.17,361.51L291.67,363.44L292.17,365.34L292.66,367.19L293.16,368.98L293.65,370.71L294.15,372.39L294.64,374.00L295.14,375.55L295.63,377.03L296.13,378.45L296.62,379.81L297.12,381.11L297.61,382.35L298.11,383.53L298.60,384.65L299.10,385.73L299.60,386.75L300.09,387.72L300.59,388.64L301.08,389.52L301.58,390.35L302.07,391.15L302.57,391.90L303.06,392.62L303.56,393.30L304.05,393.95L304.55,394.57L305.04,395.15L305.54,395.71L306.03,396.24L306.53,396.75L307.03,397.23L307.52,397.68L308.02,398.12L308.51,398.53L309.01,398.92L309.50,399.29L310.00,399.65L310.49,399.98L310.99,400.30L311.48,400.61L311.98,400.90L312.47,401.17L312.97,401.44L313.46,401.69L313.96,401.92L314.46,402.15L314.95,402.37L315.45,402.57L315.94,402.77L316.44,402.95L316.93,403.13L317.43,403.30L317.92,403.46L318.42,403.62L318.91,403.77L319.41,403.91L319.90,404.04L320.40,404.17L320.89,404.30L321.39,404.42L321.88,404.53L322.38,404.64L322.88,404.74L323.37,404.84L323.87,404.94L324.36,405.03L324.86,405.11L325.35,405.20L325.85,405.28L326.34,405.35L326.84,405.43L327.33,405.50L327.83,405.56L328.32,405.63L328.82,405.69L329.31,405.75L329.81,405.80L330.31,405.85L330.80,405.90L331.30,405.95L331.79,406.00L332.29,406.04L332.78,406.08L333.28,406.12L333.77,406.16L334.27,406.19L334.76,406.22L335.26,406.25L335.75,406.28L336.25,406.31L336.74,406.33L337.24,406.35L337.74,406.38L338.23,406.40L338.73,406.41L339.22,406.43L339.72,406.44L340.21,406.46L340.71,406.47L341.20,406.48L341.70,406.49L342.19,406.50L342.69,406.50L343.18,406.50L343.68,406.51L344.17,406.51L344.67,406.51L345.16,406.50L345.66,406.50L346.16,406.49L346.65,406.49L347.15,406.48L347.64,406.47L348.14,406.45L348.63,406.44L349.13,406.42L349.62,406.41L350.12,406.39L350.61,406.37L351.11,406.34L351.60,406.32L352.10,406.29L352.59,406.26L353.09,406.23L353.59,406.20L354.08,406.17L354.58,406.13L355.07,406.09L355.57,406.05L356.06,406.01L356.56,405.97L357.05,405.92L357.55,405.87L358.04,405.82L358.54,405.76L359.03,405.70L359.53,405.64L360.02,405.58L360.52,405.51L361.02,405.44L361.51,405.37L362.01,405.29L362.50,405.21L363.00,405.13L363.49,405.04L363.99,404.94L364.48,404.85L364.98,404.74L365.47,404.64L365.97,404.53L366.46,404.41L366.96,404.29L367.45,404.16L367.95,404.03L368.45,403.89L368.94,403.75L369.44,403.60L369.93,403.44L370.43,403.28L370.92,403.11L371.42,402.93L371.91,402.75L372.41,402.55L372.90,402.35L373.40,402.14L373.89,401.93L374.39,401.70L374.88,401.46L375.38,401.21L375.87,400.95L376.37,400.68L376.87,400.39L377.36,400.09L377.86,399.78L378.35,399.45L378.85,399.11L379.34,398.75L379.84,398.37L380.33,397.97L380.83,397.55L381.32,397.10L381.82,396.64L382.31,396.15L382.81,395.63L383.30,395.08L383.80,394.50L384.30,393.88L384.79,393.23L385.29,392.55L385.78,391.82L386.28,391.05L386.77,390.23L387.27,389.36L387.76,388.44L388.26,387.47L388.75,386.44L389.25,385.34L389.74,384.18L390.24,382.96L390.73,381.67L391.23,380.30L391.73,378.87L392.22,377.37L392.72,375.81L393.21,374.18L393.71,372.50L394.20,370.77L394.70,369.01L395.19,367.24L395.69,365.47L396.18,363.73L396.68,362.04L397.17,360.44L397.67,358.96L398.16,357.62L398.66,356.46L399.15,355.52L399.65,354.80L400.15,354.34L400.64,354.14L401.14,354.21L401.63,354.53L402.13,355.10L402.62,355.89L403.12,356.89L403.61,358.04L404.11,359.34L404.60,360.74L405.10,362.20L405.59,363.71L406.09,365.24L406.58,366.75L407.08,368.24L407.58,369.69L408.07,371.08L408.57,372.40L409.06,373.65L409.56,374.82L410.05,375.91L410.55,376.91L411.04,377.82L411.54,378.65L412.03,379.39L412.53,380.04L413.02,380.61L413.52,381.09L414.01,381.49L414.51,381.80L415.01,382.03L415.50,382.18L416.00,382.25L416.49,382.23L416.99,382.14L417.48,381.96L417.98,381.70L418.47,381.35L418.97,380.92L419.46,380.40L419.96,379.79L420.45,379.09L420.95,378.29L421.44,377.39L421.94,376.39L422.43,375.29L422.93,374.07L423.43,372.74L423.92,371.30L424.42,369.74L424.91,368.06L425.41,366.26L425.90,364.35L426.40,362.32L426.89,360.20L427.39,358.00L427.88,355.73L428.38,353.43L428.87,351.12L429.37,348.86L429.86,346.68L430.36,344.64L430.86,342.79L431.35,341.20L431.85,339.92L432.34,339.00L432.84,338.48L433.33,338.37L433.83,338.69L434.32,339.43L434.82,340.57L435.31,342.06L435.81,343.85L436.30,345.90L436.80,348.14L437.29,350.52L437.79,352.98L438.29,355.48L438.78,357.98L439.28,360.44L439.77,362.84L440.27,365.16L440.76,367.39L441.26,369.51L441.75,371.53L442.25,373.43L442.74,375.23L443.24,376.91L443.73,378.49L444.23,379.96L444.72,381.34L445.22,382.62L445.72,383.82L446.21,384.94L446.71,385.98L447.20,386.94L447.70,387.84L448.19,388.68L448.69,389.45L449.18,390.17L449.68,390.84L450.17,391.46L450.67,392.04L451.16,392.57L451.66,393.06L452.15,393.52L452.65,393.94L453.14,394.33L453.64,394.69L454.14,395.02L454.63,395.32L455.13,395.59L455.62,395.84L456.12,396.07L456.61,396.27L457.11,396.46L457.60,396.62L458.10,396.76L458.59,396.88L459.09,396.98L459.58,397.06L460.08,397.12L460.57,397.17L461.07,397.19L461.57,397.20L462.06,397.19L462.56,397.16L463.05,397.11L463.55,397.05L464.04,396.97L464.54,396.86L465.03,396.74L465.53,396.60L466.02,396.44L466.52,396.25L467.01,396.05L467.51,395.82L468.00,395.57L468.50,395.29L469.00,394.99L469.49,394.67L469.99,394.31L470.48,393.92L470.98,393.51L471.47,393.05L471.97,392.57L472.46,392.04L472.96,391.48L473.45,390.87L473.95,390.22L474.44,389.52L474.94,388.77L475.43,387.96L475.93,387.09L476.42,386.16L476.92,385.17L477.42,384.10L477.91,382.95L478.41,381.72L478.90,380.41L479.40,379.00L479.89,377.50L480.39,375.90L480.88,374.20L481.38,372.40L481.87,370.49L482.37,368.47L482.86,366.36L483.36,364.17L483.85,361.90L484.35,359.57L484.85,357.21L485.34,354.86L485.84,352.55L486.33,350.33L486.83,348.24L487.32,346.35L487.82,344.70L488.31,343.34L488.81,342.32L489.30,341.68L489.80,341.41L490.29,341.53L490.79,342.03L491.28,342.86L491.78,343.99L492.28,345.38L492.77,346.95L493.27,348.67L493.76,350.48L494.26,352.32L494.75,354.17L495.25,355.98L495.74,357.73L496.24,359.39L496.73,360.96L497.23,362.42L497.72,363.76L498.22,364.97L498.71,366.07L499.21,367.05L499.71,367.90L500.20,368.64L500.70,369.26L501.19,369.77L501.69,370.17L502.18,370.47L502.68,370.66L503.17,370.76L503.67,370.76L504.16,370.66L504.66,370.48L505.15,370.20L505.65,369.84L506.14,369.38L506.64,368.85L507.13,368.23L507.63,367.52L508.13,366.74L508.62,365.87L509.12,364.93L509.61,363.91L510.11,362.81L510.60,361.64L511.10,360.41L511.59,359.10L512.09,357.74L512.58,356.32L513.08,354.85L513.57,353.34L514.07,351.80L514.56,350.23L515.06,348.66L515.56,347.08L516.05,345.51L516.55,343.98L517.04,342.49L517.54,341.07L518.03,339.73L518.53,338.49L519.02,337.37L519.52,336.39L520.01,335.56L520.51,334.90L521.00,334.42L521.50,334.14L521.99,334.05L522.49,334.16L522.99,334.48L523.48,335.00L523.98,335.70L524.47,336.59L524.97,337.65L525.46,338.86L525.96,340.21L526.45,341.69L526.95,343.26L527.44,344.92L527.94,346.65L528.43,348.43L528.93,350.24L529.42,352.07L529.92,353.91L530.41,355.75L530.91,357.58L531.41,359.38L531.90,361.15L532.40,362.89L532.89,364.59L533.39,366.24L533.88,367.85L534.38,369.41L534.87,370.92L535.37,372.39L535.86,373.80L536.36,375.16L536.85,376.48L537.35,377.75L537.84,378.97L538.34,380.14L538.84,381.27L539.33,382.36L539.83,383.41L540.32,384.41L540.82,385.38L541.31,386.31L541.81,387.21L542.30,388.07L542.80,388.90L543.29,389.69L543.79,390.45L544.28,391.19L544.78,391.89L545.27,392.57L545.77,393.22L546.27,393.84L546.76,394.44L547.26,395.01L547.75,395.56L548.25,396.09L548.74,396.59L549.24,397.08L549.73,397.54L550.23,397.99L550.72,398.41L551.22,398.82L551.71,399.21L552.21,399.58L552.70,399.94L553.20,400.28L553.69,400.60L554.19,400.91L554.69,401.21L555.18,401.50L555.68,401.77L556.17,402.03L556.67,402.28L557.16,402.52L557.66,402.75L558.15,402.97L558.65,403.18L559.14,403.38L559.64,403.57L560.13,403.76L560.63,403.94L561.12,404.11L561.62,404.27L562.12,404.43L562.61,404.58L563.11,404.73L563.60,404.87L564.10,405.01L564.59,405.14L565.09,405.27L565.58,405.39L566.08,405.51L566.57,405.62L567.07,405.74L567.56,405.84L568.06,405.95L568.55,406.05L569.05,406.14L569.55,406.24L570.04,406.33L570.54,406.42L571.03,406.50L571.53,406.59L572.02,406.67L572.52,406.75L573.01,406.82L573.51,406.90L574.00,406.97L574.50,407.04L574.99,407.11L575.49,407.17L575.98,407.24L576.48,407.30L576.98,407.36L577.47,407.42L577.97,407.48L578.46,407.53L578.96,407.59L579.45,407.64L579.95,407.69L580.44,407.75L580.94,407.80L581.43,407.84L581.93,407.89L582.42,407.94L582.92,407.98L583.41,408.03L583.91,408.07L584.40,408.11L584.90,408.16L585.40,408.20L585.89,408.24L586.39,408.28L586.88,408.31L587.38,408.35L587.87,408.39L588.37,408.42L588.86,408.46L589.36,408.49L589.85,408.53L590.35,408.56L590.84,408.59L591.34,408.63L591.83,408.66L592.33,408.69L592.83,408.72L593.32,408.75L593.82,408.78L594.31,408.81L594.81,408.84L595.30,408.86L595.80,408.89L596.29,408.92L596.79,408.94L597.28,408.97L597.78,409.00L598.27,409.02L598.77,409.04L599.26,409.07L599.76,409.09L600.26,409.12L600.75,409.14L601.25,409.16L601.74,409.19L602.24,409.21L602.73,409.23L603.23,409.25L603.72,409.27L604.22,409.30L604.71,409.32L605.21,409.34L605.70,409.36L606.20,409.38L606.69,409.40L607.19,409.42L607.68,409.44L608.18,409.46L608.68,409.48L609.17,409.50L609.67,409.52L610.16,409.54L610.66,409.56L611.15,409.58L611.65,409.60L612.14,409.61L612.64,409.63L613.13,409.65L613.63,409.67L614.12,409.68L614.62,409.70L615.11,409.72L615.61,409.73L616.11,409.75L616.60,409.76L617.10,409.78L617.59,409.79L618.09,409.81L618.58,409.82L619.08,409.84L619.57,409.85L620.07,409.86L620.56,409.87L621.06,409.89L621.55,409.90L622.05,409.91L622.54,409.92L623.04,409.93L623.54,409.94L624.03,409.95L624.53,409.96L625.02,409.97L625.52,409.98L626.01,409.99L626.51,410.00L627.00,410.01L627.50,410.02L627.99,410.03L628.49,410.03L628.98,410.04L629.48,410.05L629.97,410.05L630.47,410.06L630.96,410.07L631.46,410.07L631.96,410.08L632.45,410.09L632.95,410.09L633.44,410.10L633.94,410.10L634.43,410.11L634.93,410.11L635.42,410.12L635.92,410.12L636.41,410.13L636.91,410.13L637.40,410.13L637.90,410.14L638.39,410.14L638.89,410.15L639.39,410.15L639.88,410.15L640.38,410.15L640.87,410.16L641.37,410.16L641.86,410.16L642.36,410.16L642.85,410.17L643.35,410.17L643.84,410.17L644.34,410.17L644.83,410.17L645.33,410.17L645.82,410.18L646.32,410.18L646.82,410.18L647.31,410.18L647.81,410.18L648.30,410.18L648.80,410.18L649.29,410.18L649.79,410.18L650.28,410.18L650.78,410.18L651.27,410.18L651.77,410.18L652.26,410.18L652.76,410.18L653.25,410.18L653.75,410.18L654.25,410.18L654.74,410.18L655.24,410.18L655.73,410.18L656.23,410.18L656.72,410.18L657.22,410.18L657.71,410.18L658.21,410.18L658.70,410.18L659.20,410.18L659.69,410.18L660.19,410.18L660.68,410.18L661.18,410.18L661.67,410.18L662.17,410.18L662.67,410.18L663.16,410.18L663.66,410.18L664.15,410.18L664.65,410.18L665.14,410.18L665.64,410.18L666.13,410.18L666.63,410.19L667.12,410.19L667.62,410.19L668.11,410.19L668.61,410.19L669.10,410.20L669.60,410.20" fill="none" stroke="#4169e1" stroke-opacity="0.58" stroke-width="2.6" stroke-linejoin="round"/>
<path d="M219.8,394.9V298.1M459.3,396.2V298.1M228,298.1H451" fill="none" stroke="#308fa7" stroke-width="2.7"/>
<path d="M219.80,298.10L229.40,293.90L229.40,302.30Z" fill="#308fa7"/>
<path d="M459.30,298.10L449.70,293.90L449.70,302.30Z" fill="#308fa7"/>
<path d="M177.7,384.3V308.6M261.3,384.5V308.6M186,308.6H253" fill="none" stroke="#2e4c83" stroke-width="2.7"/>
<path d="M177.70,308.60L187.30,304.40L187.30,312.80Z" fill="#2e4c83"/>
<path d="M261.30,308.60L251.70,304.40L251.70,312.80Z" fill="#2e4c83"/>
<path d="M161.5,335.6V319.8M193.9,335.6V319.8M170.5,319.8H186" fill="none" stroke="#5f1777" stroke-width="2.7"/>
<path d="M170.5,316V324" fill="none" stroke="#5f1777" stroke-width="1.8"/>
<path d="M162.20,319.80L168.00,316.90L168.00,322.70Z" fill="#5f1777"/>
<path d="M194.20,319.80L184.00,315.50L184.00,324.10Z" fill="#5f1777"/>
<g fill="#5f1777" stroke="#5f1777" stroke-width="0.25"><text x="125.9" y="284.5" font-size="17.5" font-style="italic">A</text><text x="139.6" y="278.7" font-size="11.2">3</text><text x="140.5" y="290.3" font-size="10.5" stroke="none">∥</text><text x="150.7" y="285.7" font-size="19.5" font-style="italic">/</text><text x="156.9" y="284.5" font-size="16">2</text><text x="166.9" y="284.5" font-size="16" font-style="italic">π</text></g>
<g fill="#2e4c83" stroke="#2e4c83" stroke-width="0.25"><text x="194.4" y="284.5" font-size="17.5" font-style="italic">A</text><text x="208.1" y="278.7" font-size="11.2">2</text><text x="209.0" y="290.3" font-size="10.5" stroke="none">∥</text><text x="219.2" y="285.7" font-size="19.5" font-style="italic">/</text><text x="225.4" y="284.5" font-size="16">2</text><text x="235.4" y="284.5" font-size="16" font-style="italic">π</text></g>
<g fill="#308fa7" stroke="#308fa7" stroke-width="0.25"><text x="314.1" y="284.5" font-size="17.5" font-style="italic">A</text><text x="327.8" y="278.7" font-size="11.2">1</text><text x="328.7" y="290.3" font-size="10.5" stroke="none">∥</text><text x="338.9" y="285.7" font-size="19.5" font-style="italic">/</text><text x="345.1" y="284.5" font-size="16">2</text><text x="355.1" y="284.5" font-size="16" font-style="italic">π</text></g>
<path d="M68.70,432.4v-5.8M168.85,432.4v-5.8M269.00,432.4v-5.8M369.15,432.4v-5.8M469.30,432.4v-5.8M569.45,432.4v-5.8M669.60,432.4v-5.8M68.7,378.90h5.8M68.7,325.50h5.8M68.7,272.10h5.8" stroke="#000" stroke-width="1.6" fill="none"/>
<text transform="translate(68.70,450.30) scale(1,1.05)" class="k" font-size="21" text-anchor="middle" fill="#000" >0.0</text>
<text transform="translate(168.85,450.30) scale(1,1.05)" class="k" font-size="21" text-anchor="middle" fill="#000" >0.5</text>
<text transform="translate(269.00,450.30) scale(1,1.05)" class="k" font-size="21" text-anchor="middle" fill="#000" >1.0</text>
<text transform="translate(369.15,450.30) scale(1,1.05)" class="k" font-size="21" text-anchor="middle" fill="#000" >1.5</text>
<text transform="translate(469.30,450.30) scale(1,1.05)" class="k" font-size="21" text-anchor="middle" fill="#000" >2.0</text>
<text transform="translate(569.45,450.30) scale(1,1.05)" class="k" font-size="21" text-anchor="middle" fill="#000" >2.5</text>
<text transform="translate(669.60,450.30) scale(1,1.05)" class="k" font-size="21" text-anchor="middle" fill="#000" >3.0</text>
<text transform="translate(67.10,387.10) scale(1,1.05)" class="k" font-size="21" text-anchor="end" fill="#000" >1.0</text>
<text transform="translate(67.10,333.70) scale(1,1.05)" class="k" font-size="21" text-anchor="end" fill="#000" >2.0</text>
<text transform="translate(67.10,280.30) scale(1,1.05)" class="k" font-size="21" text-anchor="end" fill="#000" >3.0</text>
<text class="k" x="326.2" y="472.3" font-size="19.5" font-style="italic">ν</text><text class="k" x="344.4" y="472.3" font-size="21">(MHz)</text>
<g class="k" transform="translate(25.7,332.5) rotate(-90)" font-size="20.6"><text x="-72.3" y="0" textLength="52.5" lengthAdjust="spacing">|<tspan font-style="italic">S</tspan>(<tspan font-style="italic">ν</tspan>)|</text><text x="-13.8" y="0" textLength="86" lengthAdjust="spacing">(arb. u.)</text></g>
</g>
<g id="panel-b">
<line x1="112.07" y1="500.5" x2="112.07" y2="771.3" stroke="#e8e8e8" stroke-width="1.15"/>
<line x1="144.21" y1="500.5" x2="144.21" y2="771.3" stroke="#e8e8e8" stroke-width="1.15"/>
<line x1="208.49" y1="500.5" x2="208.49" y2="771.3" stroke="#e8e8e8" stroke-width="1.15"/>
<line x1="337.05" y1="500.5" x2="337.05" y2="771.3" stroke="#e8e8e8" stroke-width="1.15"/>
<line x1="594.17" y1="500.5" x2="594.17" y2="771.3" stroke="#e8e8e8" stroke-width="1.15"/>
<line x1="68.7" y1="512.62" x2="669.6" y2="512.62" stroke="#e8e8e8" stroke-width="1.15"/>
<line x1="68.7" y1="560.10" x2="669.6" y2="560.10" stroke="#e8e8e8" stroke-width="1.15"/>
<line x1="68.7" y1="607.58" x2="669.6" y2="607.58" stroke="#e8e8e8" stroke-width="1.15"/>
<line x1="68.7" y1="655.05" x2="669.6" y2="655.05" stroke="#e8e8e8" stroke-width="1.15"/>
<line x1="68.7" y1="702.52" x2="669.6" y2="702.52" stroke="#e8e8e8" stroke-width="1.15"/>
<line x1="68.7" y1="750.00" x2="669.6" y2="750.00" stroke="#e8e8e8" stroke-width="1.15"/>
<rect x="68.7" y="500.5" width="600.90" height="270.80" fill="none" stroke="#e3e3e3" stroke-width="1.2"/>
<rect x="98.4" y="512.8" width="180.60" height="82.60" fill="#fff"/>
<line x1="106.80" y1="512.8" x2="106.80" y2="595.4" stroke="#e8e8e8" stroke-width="1.15"/>
<line x1="243.90" y1="512.8" x2="243.90" y2="595.4" stroke="#e8e8e8" stroke-width="1.15"/>
<line x1="98.4" y1="540.80" x2="279.0" y2="540.80" stroke="#e8e8e8" stroke-width="1.15"/>
<line x1="98.4" y1="587.60" x2="279.0" y2="587.60" stroke="#e8e8e8" stroke-width="1.15"/>
<rect x="98.4" y="512.8" width="180.60" height="82.60" fill="none" stroke="#e3e3e3" stroke-width="1.2"/>
<path d="M106.80,524.61L107.64,524.62L108.48,524.65L109.32,524.71L110.16,524.79L111.00,524.89L111.84,525.03L112.68,525.18L113.52,525.37L114.36,525.58L115.21,525.82L116.05,526.09L116.89,526.38L117.73,526.70L118.57,527.05L119.41,527.42L120.25,527.81L121.09,528.24L121.93,528.68L122.77,529.16L123.61,529.65L124.45,530.17L125.29,530.71L126.13,531.28L126.97,531.87L127.81,532.47L128.65,533.10L129.49,533.75L130.33,534.41L131.17,535.10L132.02,535.80L132.86,536.52L133.70,537.25L134.54,538.00L135.38,538.76L136.22,539.53L137.06,540.32L137.90,541.11L138.74,541.92L139.58,542.74L140.42,543.56L141.26,544.39L142.10,545.23L142.94,546.07L143.78,546.92L144.62,547.77L145.46,548.62L146.30,549.48L147.14,550.33L147.99,551.19L148.83,552.04L149.67,552.89L150.51,553.74L151.35,554.59L152.19,555.44L153.03,556.27L153.87,557.11L154.71,557.93L155.55,558.75L156.39,559.56L157.23,560.37L158.07,561.16L158.91,561.95L159.75,562.72L160.59,563.49L161.43,564.24L162.27,564.99L163.11,565.72L163.95,566.44L164.80,567.14L165.64,567.84L166.48,568.52L167.32,569.18L168.16,569.84L169.00,570.48L169.84,571.10L170.68,571.72L171.52,572.31L172.36,572.90L173.20,573.46L174.04,574.02L174.88,574.56L175.72,575.08L176.56,575.59L177.40,576.09L178.24,576.57L179.08,577.04L179.92,577.49L180.77,577.93L181.61,578.36L182.45,578.77L183.29,579.17L184.13,579.55L184.97,579.92L185.81,580.28L186.65,580.63L187.49,580.96L188.33,581.28L189.17,581.59L190.01,581.89L190.85,582.17L191.69,582.45L192.53,582.71L193.37,582.96L194.21,583.20L195.05,583.43L195.89,583.66L196.73,583.87L197.58,584.07L198.42,584.26L199.26,584.45L200.10,584.62L200.94,584.79L201.78,584.95L202.62,585.10L203.46,585.25L204.30,585.39L205.14,585.52L205.98,585.64L206.82,585.76L207.66,585.87L208.50,585.98L209.34,586.08L210.18,586.17L211.02,586.26L211.86,586.35L212.70,586.43L213.55,586.50L214.39,586.57L215.23,586.64L216.07,586.70L216.91,586.76L217.75,586.82L218.59,586.87L219.43,586.92L220.27,586.97L221.11,587.01L221.95,587.05L222.79,587.09L223.63,587.13L224.47,587.16L225.31,587.19L226.15,587.22L226.99,587.25L227.83,587.28L228.67,587.30L229.51,587.32L230.36,587.34L231.20,587.36L232.04,587.38L232.88,587.40L233.72,587.41L234.56,587.43L235.40,587.44L236.24,587.45L237.08,587.47L237.92,587.48L238.76,587.49L239.60,587.50L240.44,587.50L241.28,587.51L242.12,587.52L242.96,587.53L243.80,587.53L244.64,587.54L245.48,587.54L246.33,587.55L247.17,587.55L248.01,587.56L248.85,587.56L249.69,587.56L250.53,587.57L251.37,587.57L252.21,587.57L253.05,587.58L253.89,587.58L254.73,587.58L255.57,587.58L256.41,587.58L257.25,587.58L258.09,587.59L258.93,587.59L259.77,587.59L260.61,587.59L261.45,587.59L262.29,587.59L263.14,587.59L263.98,587.59L264.82,587.59L265.66,587.59L266.50,587.59L267.34,587.60L268.18,587.60L269.02,587.60L269.86,587.60L270.70,587.60L271.54,587.60L272.38,587.60L273.22,587.60L274.06,587.60" fill="none" stroke="#8fa6ea" stroke-width="2.3"/>
<path d="M106.63,517.37v7M107.77,523.07v7M107.01,528.76v7M109.67,521.17v7M108.91,524.96v7M112.32,523.82v7M117.26,520.03v7M114.60,522.31v7M122.19,523.07v7M127.88,526.86v7M136.99,536.35v7M149.52,549.63v7M165.83,561.78v7M190.12,578.85v7M223.52,584.55v7M270.96,583.79v7" stroke="#6484e2" stroke-width="1.9" fill="none"/>
<g fill="#6484e2"><circle cx="106.63" cy="520.87" r="2.25"/><circle cx="107.77" cy="526.57" r="2.25"/><circle cx="107.01" cy="532.26" r="2.25"/><circle cx="109.67" cy="524.67" r="2.25"/><circle cx="108.91" cy="528.46" r="2.25"/><circle cx="112.32" cy="527.32" r="2.25"/><circle cx="117.26" cy="523.53" r="2.25"/><circle cx="114.60" cy="525.81" r="2.25"/><circle cx="122.19" cy="526.57" r="2.25"/><circle cx="127.88" cy="530.36" r="2.25"/><circle cx="136.99" cy="539.85" r="2.25"/><circle cx="149.52" cy="553.13" r="2.25"/><circle cx="165.83" cy="565.28" r="2.25"/><circle cx="190.12" cy="582.35" r="2.25"/><circle cx="223.52" cy="588.05" r="2.25"/><circle cx="270.96" cy="587.29" r="2.25"/></g>
<path d="M106.80,595.4v-5.8M243.90,595.4v-5.8M279.0,540.80h-5.8M279.0,587.60h-5.8" stroke="#000" stroke-width="1.6" fill="none"/>
<text transform="translate(106.80,613.00) scale(1,1.05)" class="k" font-size="21" text-anchor="middle" fill="#000" >0</text>
<text transform="translate(243.90,613.00) scale(1,1.05)" class="k" font-size="21" text-anchor="middle" fill="#000" >500</text>
<text transform="translate(280.50,549.00) scale(1,1.05)" class="k" font-size="21" text-anchor="start" fill="#000" >0.5</text>
<text transform="translate(280.50,595.80) scale(1,1.05)" class="k" font-size="21" text-anchor="start" fill="#000" >0.0</text>
<text class="k" transform="translate(159.8,634.6) scale(1.1,1)" font-size="18" font-style="italic">τ</text><text class="k" x="175.9" y="634.6" font-size="21">(µs)</text>
<g transform="translate(336.8,554.5) rotate(-90)"><text transform="translate(-22.30,-0.3) scale(1.3,1)" font-size="28.5" stroke="#fff" stroke-width="1.05">⟨</text><text x="-9.8" y="-0.4" font-size="17.5" font-style="italic">σ</text><text x="2.50" y="2.8" font-size="12" font-style="italic">z</text><text transform="translate(7.74,-0.3) scale(1.3,1)" font-size="28.5" stroke="#fff" stroke-width="1.05">⟩</text></g>
<path d="M112.07,736.71L116.53,732.51L120.98,728.56L125.44,724.80L129.90,721.23L134.35,717.80L138.81,714.51L143.26,711.34L147.72,708.27L152.18,705.30L156.63,702.42L161.09,699.62L165.55,696.89L170.00,694.23L174.46,691.64L178.92,689.10L183.37,686.62L187.83,684.19L192.28,681.80L196.74,679.47L201.20,677.17L205.65,674.92L210.11,672.70L214.57,670.53L219.02,668.38L223.48,666.27L227.94,664.19L232.39,662.14L236.85,660.12L241.31,658.13L245.76,656.16L250.22,654.22L254.67,652.31L259.13,650.42L263.59,648.55L268.04,646.70L272.50,644.87L276.96,643.07L281.41,641.28L285.87,639.51L290.33,637.76L294.78,636.03L299.24,634.32L303.69,632.62L308.15,630.94L312.61,629.28L317.06,627.63L321.52,625.99L325.98,624.37L330.43,622.77L334.89,621.18L339.35,619.60L343.80,618.03L348.26,616.48L352.71,614.94L357.17,613.41L361.63,611.90L366.08,610.39L370.54,608.90L375.00,607.42L379.45,605.95L383.91,604.49L388.37,603.04L392.82,601.60L397.28,600.17L401.74,598.75L406.19,597.34L410.65,595.94L415.10,594.54L419.56,593.16L424.02,591.79L428.47,590.42L432.93,589.06L437.39,587.71L441.84,586.37L446.30,585.04L450.76,583.72L455.21,582.40L459.67,581.09L464.12,579.79L468.58,578.49L473.04,577.20L477.49,575.92L481.95,574.65L486.41,573.38L490.86,572.12L495.32,570.87L499.78,569.62L504.23,568.38L508.69,567.15L513.14,565.92L517.60,564.70L522.06,563.48L526.51,562.27L530.97,561.07L535.43,559.87L539.88,558.67L544.34,557.49L548.80,556.31L553.25,555.13L557.71,553.96L562.17,552.79L566.62,551.63L571.08,550.48L575.53,549.33L579.99,548.18L584.45,547.04L588.90,545.91L593.36,544.78L597.82,543.65L602.27,542.53L606.73,541.41L611.19,540.30L615.64,539.20L620.10,538.09L624.55,536.99L629.01,535.90L633.47,534.81L637.92,533.72L642.38,532.64" fill="none" stroke="#bdbdbd" stroke-width="2.6"/>
<line x1="112.07" y1="732.00" x2="112.07" y2="742.60" stroke="#3a87ad" stroke-width="1.9"/>
<circle cx="112.07" cy="737.30" r="2.5" fill="#3a87ad"/>
<line x1="144.21" y1="702.70" x2="144.21" y2="711.90" stroke="#2f7f99" stroke-width="1.9"/>
<circle cx="144.21" cy="707.30" r="2.5" fill="#2f7f99"/>
<line x1="208.49" y1="673.20" x2="208.49" y2="690.80" stroke="#3b2f80" stroke-width="1.9"/>
<circle cx="208.49" cy="682.00" r="2.5" fill="#3b2f80"/>
<line x1="337.05" y1="594.90" x2="337.05" y2="625.90" stroke="#7c2a8a" stroke-width="1.9"/>
<circle cx="337.05" cy="610.40" r="2.5" fill="#7c2a8a"/>
<line x1="594.17" y1="512.80" x2="594.17" y2="584.00" stroke="#c2417f" stroke-width="1.9"/>
<circle cx="594.17" cy="548.40" r="2.5" fill="#c2417f"/>
<line x1="99" y1="601" x2="96.2" y2="742" stroke="#6484e2" stroke-width="1.5"/>
<path d="M91,740.8L101,740.8L96,751Z" fill="#6484e2"/>
<circle cx="96" cy="757.4" r="2.2" fill="#6484e2"/>
<path d="M112.07,771.3v-5.8M144.21,771.3v-5.8M208.49,771.3v-5.8M337.05,771.3v-5.8M594.17,771.3v-5.8M68.7,512.62h5.8M68.7,560.10h5.8M68.7,607.58h5.8M68.7,655.05h5.8M68.7,702.52h5.8M68.7,750.00h5.8" stroke="#000" stroke-width="1.6" fill="none"/>
<text transform="translate(112.07,789.60) scale(1,1.05)" class="k" font-size="21" text-anchor="middle" fill="#000" >2</text>
<text transform="translate(144.21,789.60) scale(1,1.05)" class="k" font-size="21" text-anchor="middle" fill="#000" >4</text>
<text transform="translate(208.49,789.60) scale(1,1.05)" class="k" font-size="21" text-anchor="middle" fill="#000" >8</text>
<text transform="translate(337.05,789.60) scale(1,1.05)" class="k" font-size="21" text-anchor="middle" fill="#000" >16</text>
<text transform="translate(594.17,789.60) scale(1,1.05)" class="k" font-size="21" text-anchor="middle" fill="#000" >32</text>
<text transform="translate(67.10,520.83) scale(1,1.05)" class="k" font-size="21" text-anchor="end" fill="#000" >1.5</text>
<text transform="translate(67.10,568.30) scale(1,1.05)" class="k" font-size="21" text-anchor="end" fill="#000" >1.2</text>
<text transform="translate(67.10,615.78) scale(1,1.05)" class="k" font-size="21" text-anchor="end" fill="#000" >1.0</text>
<text transform="translate(67.10,663.25) scale(1,1.05)" class="k" font-size="21" text-anchor="end" fill="#000" >0.8</text>
<text transform="translate(67.10,710.73) scale(1,1.05)" class="k" font-size="21" text-anchor="end" fill="#000" >0.5</text>
<text transform="translate(67.10,758.20) scale(1,1.05)" class="k" font-size="21" text-anchor="end" fill="#000" >0.2</text>
<text transform="translate(370.30,810.60) scale(1,1.05)" class="k" font-size="18.5" text-anchor="middle" fill="#000" font-style="italic">N</text>
<g class="k" transform="translate(24.5,636) rotate(-90)"><text x="-58.2" y="0" font-size="19" font-style="italic">T</text><text x="-42" y="-7.4" font-size="13.8">CPMG</text><text x="-46.5" y="5.5" font-size="14">2,</text><text x="-32.2" y="5.5" font-size="14">e</text><text x="9.4" y="-0.8" font-size="21">(ms)</text></g>
<text transform="translate(38.60,486.30) scale(1,1.05)" class="k" font-size="21" text-anchor="start" fill="#000" font-weight="bold">b</text>
</g>
</svg>
</body></html>
